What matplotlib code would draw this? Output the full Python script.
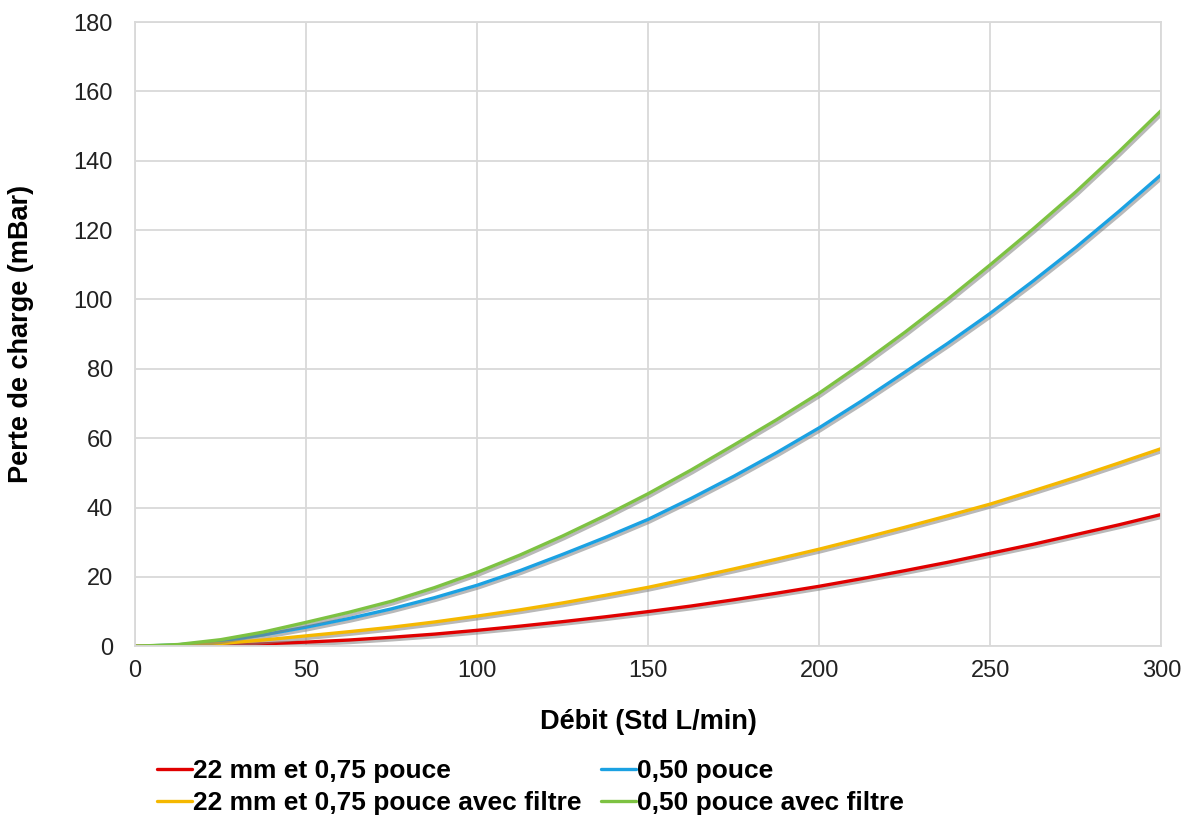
import numpy as np
import matplotlib.pyplot as plt
import matplotlib.patheffects as pe

plt.rcParams['font.family'] = ['Liberation Sans', 'DejaVu Sans']

debit = [0, 12.5, 25, 37.5, 50, 62.5, 75, 87.5, 100, 112.5, 125, 137.5, 150,
         162.5, 175, 187.5, 200, 212.5, 225, 237.5, 250, 262.5, 275, 287.5, 300]
red = [0, 0.1, 0.3, 0.7, 1.2, 1.8, 2.6, 3.5, 4.6, 5.8, 7.1, 8.5, 10,
       11.6, 13.4, 15.3, 17.3, 19.5, 21.8, 24.2, 26.8, 29.4, 32.2, 35.0, 38]
yellow = [0, 0.2, 0.8, 1.8, 3.0, 4.2, 5.5, 7.0, 8.7, 10.5, 12.5, 14.7, 17,
          19.6, 22.3, 25.1, 28, 31.1, 34.3, 37.6, 41, 44.8, 48.7, 52.8, 57]
blue = [0, 0.4, 1.5, 3.3, 5.5, 8.0, 10.8, 14.0, 17.6, 21.8, 26.5, 31.4, 36.6,
        42.6, 49, 55.8, 63, 70.8, 79, 87.3, 96, 105.3, 115, 125.3, 136]
green = [0, 0.5, 1.9, 4.1, 6.9, 9.8, 13.0, 16.9, 21.3, 26.3, 31.8, 37.7, 44,
         50.8, 58, 65.3, 73, 81.5, 90.5, 100, 110, 120.3, 131, 142.5, 154.5]

labels = ["22 mm et 0,75 pouce", "0,50 pouce",
          "22 mm et 0,75 pouce avec filtre", "0,50 pouce avec filtre"]
series = [red, blue, yellow, green]
colors = ["#e00000", "#1ba1e2", "#f5b800", "#7dc242"]

fig = plt.figure(figsize=(11.85, 8.16), dpi=100)
ax = fig.add_axes([0.114, 0.208, 0.866, 0.765])

shadow = [pe.SimpleLineShadow(offset=(1.2, -1.8), shadow_color='grey', alpha=0.55), pe.Normal()]
lines = {}
for ys, c, lab in zip(series, colors, labels):
    ln, = ax.plot(debit, ys, color=c, lw=2.4, label=lab, path_effects=shadow,
                  solid_capstyle='round')
    lines[lab] = ln

ax.set_xlim(0, 300)
ax.set_ylim(0, 180)
ax.set_xticks(np.arange(0, 301, 50))
ax.set_yticks(np.arange(0, 181, 20))
ax.grid(True, color='#d9d9d9', lw=1.3)
ax.set_axisbelow(True)
for s in ax.spines.values():
    s.set_color('#d9d9d9')
    s.set_linewidth(1.3)
ax.tick_params(length=0, labelsize=17, colors='#222222')
ax.tick_params(axis='x', pad=10)
ax.tick_params(axis='y', pad=16)
ax.set_xlabel("Débit (Std L/min)", fontsize=19.5, fontweight='bold', labelpad=19)
ax.set_ylabel("Perte de charge (mBar)", fontsize=19.5, fontweight='bold', labelpad=28)

# legend: row 1 red / blue, row 2 yellow / green (matplotlib fills by column)
order = [labels[0], labels[2], labels[1], labels[3]]
leg = fig.legend(handles=[lines[k] for k in order], ncol=2, loc='upper left',
                 bbox_to_anchor=(0.124, 0.083), frameon=False,
                 prop={'weight': 'bold', 'size': 19},
                 handlelength=1.3, handletextpad=0.05, columnspacing=0.75,
                 labelspacing=0.3, borderaxespad=0)
for h in leg.legend_handles:
    h.set_path_effects([])
    h.set_linewidth(2.4)

fig.savefig("out.png", dpi=100)
